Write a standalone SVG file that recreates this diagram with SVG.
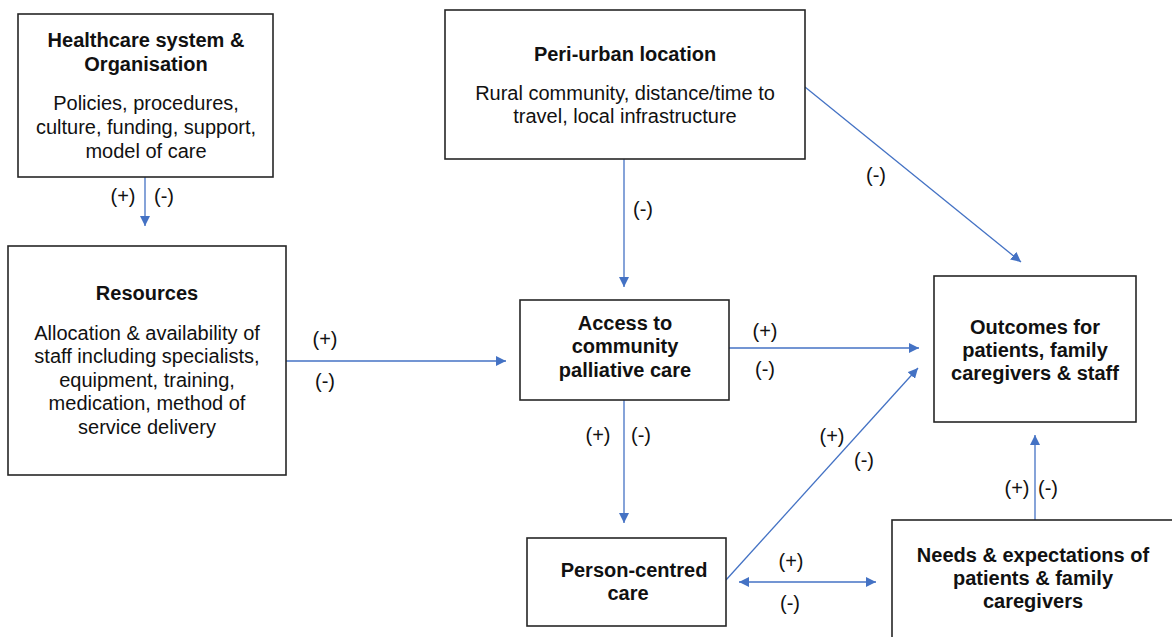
<svg xmlns="http://www.w3.org/2000/svg" width="1172" height="637" viewBox="0 0 1172 637">
<style>
.box{fill:#fff;stroke:#262626;stroke-width:1.6}
.t{font-family:"Liberation Sans",Arial,sans-serif;font-size:20px;fill:#111;text-anchor:middle}
.b{font-weight:bold}
.lbl{font-family:"Liberation Sans",Arial,sans-serif;font-size:20px;fill:#111;text-anchor:middle}
.c{stroke:#4472C4;stroke-width:1.3;fill:none}
</style>
<defs>
<marker id="ah" viewBox="0 0 10 10" refX="10" refY="5" markerWidth="10" markerHeight="10" markerUnits="userSpaceOnUse" orient="auto-start-reverse">
<path d="M0,0 L10,5 L0,10 Z" fill="#4472C4"/>
</marker>
</defs>
<rect width="1172" height="637" fill="#fff"/>
<g id="connectors">
<line class="c" x1="145" y1="177" x2="145" y2="226" marker-end="url(#ah)"/>
<line class="c" x1="286" y1="361" x2="506" y2="361" marker-end="url(#ah)"/>
<line class="c" x1="624" y1="159" x2="624" y2="287" marker-end="url(#ah)"/>
<line class="c" x1="805" y1="87" x2="1021" y2="262" marker-end="url(#ah)"/>
<line class="c" x1="729" y1="348" x2="919" y2="348" marker-end="url(#ah)"/>
<line class="c" x1="624" y1="400" x2="624" y2="523" marker-end="url(#ah)"/>
<line class="c" x1="726" y1="580" x2="918" y2="368" marker-end="url(#ah)"/>
<line class="c" x1="739" y1="582" x2="876" y2="582" marker-start="url(#ah)" marker-end="url(#ah)"/>
<line class="c" x1="1035" y1="520" x2="1035" y2="435" marker-end="url(#ah)"/>
<text class="lbl" x="123" y="203">(+)</text>
<text class="lbl" x="164" y="203">(-)</text>
<text class="lbl" x="325" y="346">(+)</text>
<text class="lbl" x="325" y="388">(-)</text>
<text class="lbl" x="643" y="216">(-)</text>
<text class="lbl" x="876" y="182">(-)</text>
<text class="lbl" x="765" y="338">(+)</text>
<text class="lbl" x="765" y="376">(-)</text>
<text class="lbl" x="598" y="442">(+)</text>
<text class="lbl" x="641" y="442">(-)</text>
<text class="lbl" x="832" y="443">(+)</text>
<text class="lbl" x="864" y="467">(-)</text>
<text class="lbl" x="791" y="568">(+)</text>
<text class="lbl" x="790" y="610">(-)</text>
<text class="lbl" x="1017" y="495">(+)</text>
<text class="lbl" x="1048" y="495">(-)</text>
</g>
<g id="healthcare">
<rect class="box" x="18" y="14" width="255" height="163"/>
<text class="t b" x="146" y="47">Healthcare system &amp;</text>
<text class="t b" x="146" y="71">Organisation</text>
<text class="t" x="146" y="110">Policies, procedures,</text>
<text class="t" x="146" y="134">culture, funding, support,</text>
<text class="t" x="146" y="158">model of care</text>
</g>
<g id="resources">
<rect class="box" x="8" y="246" width="278" height="229"/>
<text class="t b" x="147" y="300">Resources</text>
<text class="t" x="147" y="340">Allocation &amp; availability of</text>
<text class="t" x="147" y="363">staff including specialists,</text>
<text class="t" x="147" y="387">equipment, training,</text>
<text class="t" x="147" y="410">medication, method of</text>
<text class="t" x="147" y="434">service delivery</text>
</g>
<g id="periurban">
<rect class="box" x="445" y="10" width="360" height="149"/>
<text class="t b" x="625" y="61">Peri-urban location</text>
<text class="t" x="625" y="100">Rural community, distance/time to</text>
<text class="t" x="625" y="123">travel, local infrastructure</text>
</g>
<g id="access">
<rect class="box" x="520" y="300" width="209" height="100"/>
<text class="t b" x="625" y="330">Access to</text>
<text class="t b" x="625" y="353">community</text>
<text class="t b" x="625" y="377">palliative care</text>
</g>
<g id="outcomes">
<rect class="box" x="934" y="276" width="202" height="146"/>
<text class="t b" x="1035" y="334">Outcomes for</text>
<text class="t b" x="1035" y="357">patients, family</text>
<text class="t b" x="1035" y="380">caregivers &amp; staff</text>
</g>
<g id="personcentred">
<rect class="box" x="527" y="538" width="199" height="88"/>
<text class="t b" x="634" y="577">Person-centred</text>
<text class="t b" x="628" y="600">care</text>
</g>
<g id="needs">
<rect class="box" x="892" y="520" width="300" height="140"/>
<text class="t b" x="1033" y="562">Needs &amp; expectations of</text>
<text class="t b" x="1033" y="585">patients &amp; family</text>
<text class="t b" x="1033" y="608">caregivers</text>
</g>
</svg>
